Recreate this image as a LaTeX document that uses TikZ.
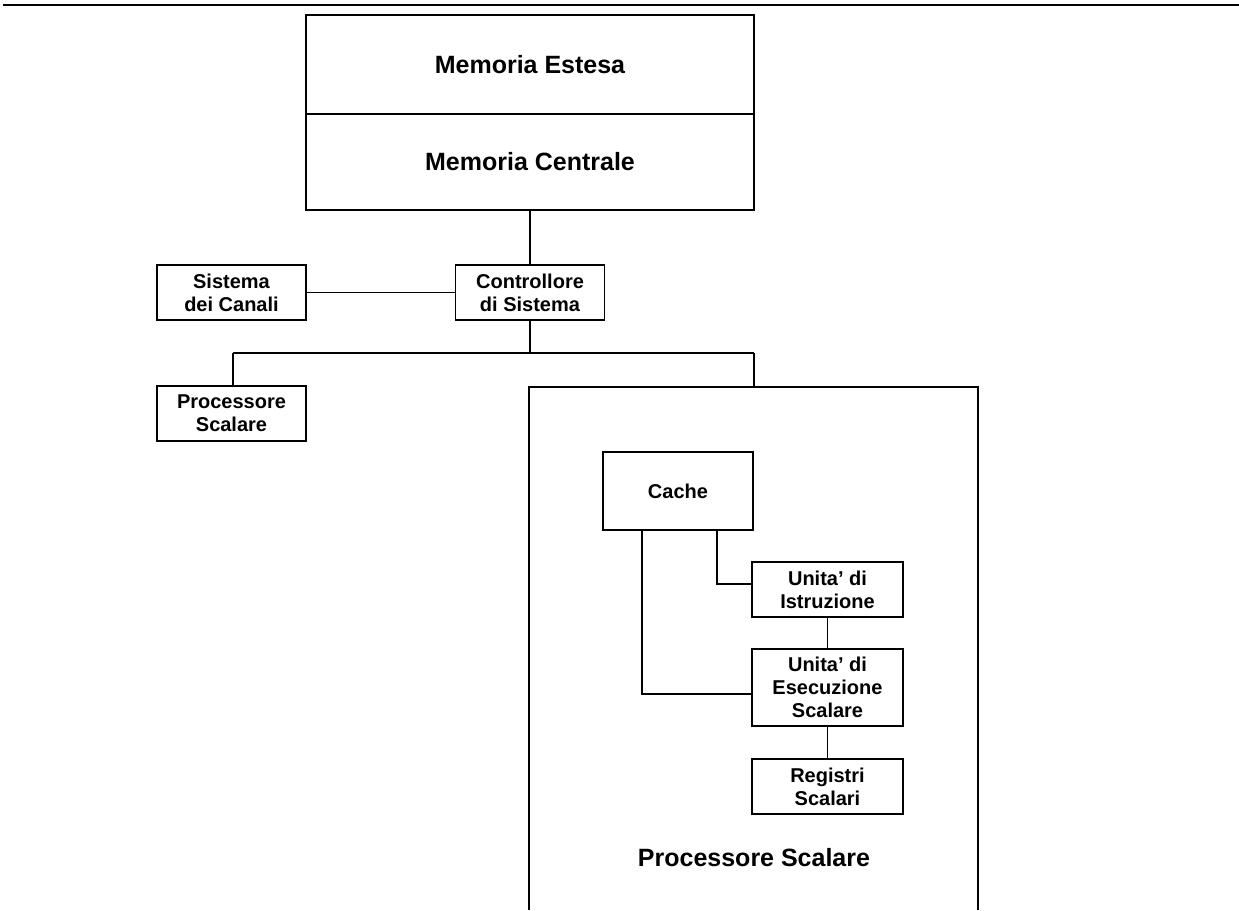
\documentclass[tikz,border=0pt]{standalone}
\usepackage{fontspec}
\setmainfont{Liberation Sans}
\usetikzlibrary{calc}
\begin{document}
\begin{tikzpicture}[x=1pt,y=-1pt,
  line width=1.8pt,
  unit/.style={draw, line width=1.8pt, inner sep=0pt, align=center,
    font=\fontsize{20}{23}\selectfont\bfseries},
  bigtext/.style={font=\fontsize{25}{30}\selectfont\bfseries}]
\useasboundingbox (0,0) rectangle (1239,910);

% rule across the top of the page
\coordinate (ruleL) at (3,5);
\coordinate (ruleR) at (1239,5);
\draw[line width=2pt] (ruleL) -- (ruleR);

% memory stack
\node[unit, bigtext, minimum width=448pt, minimum height=99pt] (est) at (530,64.5) {Memoria Estesa};
\node[unit, bigtext, minimum width=448pt, minimum height=96pt] (cen) at (530,162) {Memoria Centrale};

% system level units
\node[unit, minimum width=149pt, minimum height=55pt] (can) at (231.5,292.5) {Sistema\\dei Canali};
\node[unit, minimum width=149pt, minimum height=55pt] (ctl) at (530,292.5) {Controllore\\di Sistema};
\node[unit, minimum width=149pt, minimum height=55pt] (ps1) at (231.5,413.5) {Processore\\Scalare};

% expanded scalar processor (open at the bottom)
\coordinate (bxBL) at (529,910);
\coordinate (bxTL) at (529,387);
\coordinate (bxTR) at (978,387);
\coordinate (bxBR) at (978,910);
\coordinate (bxTop) at (754,387);
\draw (bxBL) -- (bxTL) -- (bxTR) -- (bxBR);

\node[unit, minimum width=150pt, minimum height=78pt] (cache) at (678,491) {Cache};
\node[unit, minimum width=151pt, minimum height=55pt] (istr) at (827.5,589.5) {Unita’ di\\Istruzione};
\node[unit, minimum width=151pt, minimum height=77pt] (esec) at (827.5,687.5) {Unita’ di\\Esecuzione\\Scalare};
\node[unit, minimum width=151pt, minimum height=55pt] (reg) at (827.5,786.5) {Registri\\Scalari};
\node[bigtext] (pslab) at (754,858) {Processore Scalare};

% bus connections
\coordinate (busL) at (233,353);
\coordinate (busM) at (530,353);
\coordinate (busR) at (754,353);
\draw (cen.south -| ctl.north) -- (ctl.north);
\draw (can.east) -- (ctl.west);
\draw (ctl.south) -- (busM);
\draw (busL) -- (busR);
\draw (busL) -- (busL |- ps1.north);
\draw (busR) -- (bxTop);

% connections inside the processor
\coordinate (cA) at (642,530);
\coordinate (cB) at (717,530);
\draw (cB) |- ($(istr.west)+(0,-5.5)$);
\draw (cA) |- ($(esec.west)+(0,6.5)$);
\draw (istr.south) -- (esec.north);
\draw (esec.south) -- (reg.north);
\end{tikzpicture}
\end{document}
